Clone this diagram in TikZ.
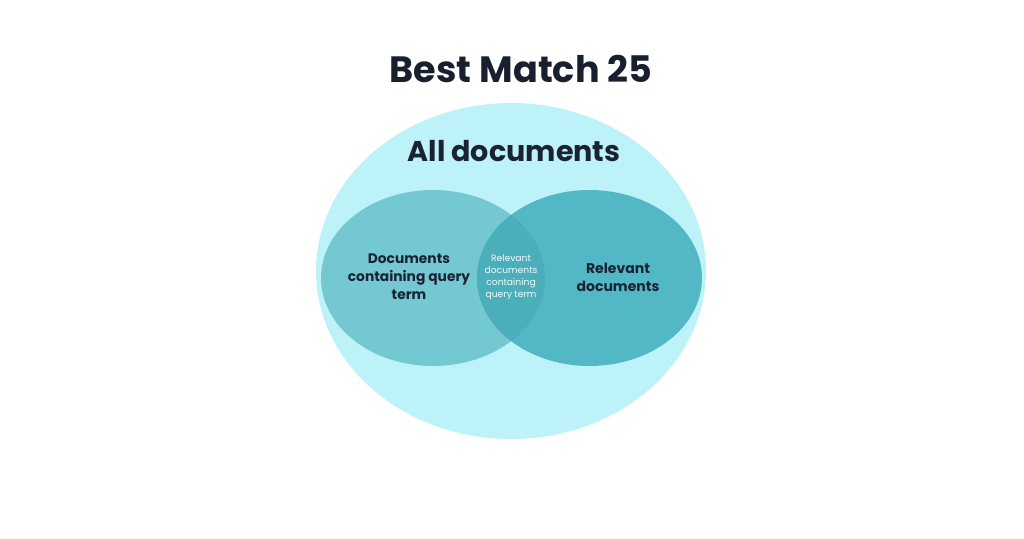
\documentclass[tikz,border=0pt]{standalone}
\usepackage{fontspec}
\setmainfont{Poppins}
\usetikzlibrary{shapes.geometric}
\definecolor{ink}{HTML}{1B2233}
\definecolor{skyfill}{HTML}{BDF3F8}
\definecolor{leftfill}{HTML}{73C8D2}
\definecolor{rightfill}{HTML}{52B8C6}
\definecolor{bothfill}{HTML}{4AAFBB}
\tikzset{%
    set/.style={ellipse, inner sep=0pt},
    label/.style={text=ink, font=\bfseries, align=center}
}

\begin{document}
\begin{tikzpicture}[x=0.5pt, y=-0.5pt]

    \useasboundingbox (0, 0) rectangle (1024, 538);

    % Title
    \node[label, font=\fontsize{18.3}{22}\selectfont\bfseries, text=ink!90!black]
        (title) at (521, 69) {Best Match 25};

    % All documents
    \node[set, fill=skyfill, minimum width=195pt, minimum height=168pt]
        (all) at (511, 271) {};
    \node[label, font=\fontsize{14.3}{17}\selectfont\bfseries] (alltext)
        at (514, 151) {All documents};

    % Query term and relevant sets
    \node[set, fill=leftfill, minimum width=112pt, minimum height=88pt]
        (query) at (433, 278) {};
    \node[set, fill=rightfill, minimum width=112.5pt, minimum height=88pt]
        (relevant) at (589.5, 278) {};

    % Overlap
    \begin{scope}
        \clip (433, 278) ellipse [x radius=112, y radius=88];
        \fill[bothfill] (589.5, 278) ellipse [x radius=112.5, y radius=88];
    \end{scope}

    % Labels
    \node[label, font=\fontsize{6.9}{9}\selectfont\bfseries] (querytext)
        at (409, 277) {Documents\\containing query\\term};
    \node[label, font=\fontsize{7}{9}\selectfont\bfseries] (relevanttext)
        at (618, 277) {Relevant\\documents};
    \node[label, text=white!92!leftfill, font=\fontsize{4.6}{6}\selectfont]
        (bothtext) at (511, 277) {Relevant\\documents\\containing\\query term};

\end{tikzpicture}
\end{document}
